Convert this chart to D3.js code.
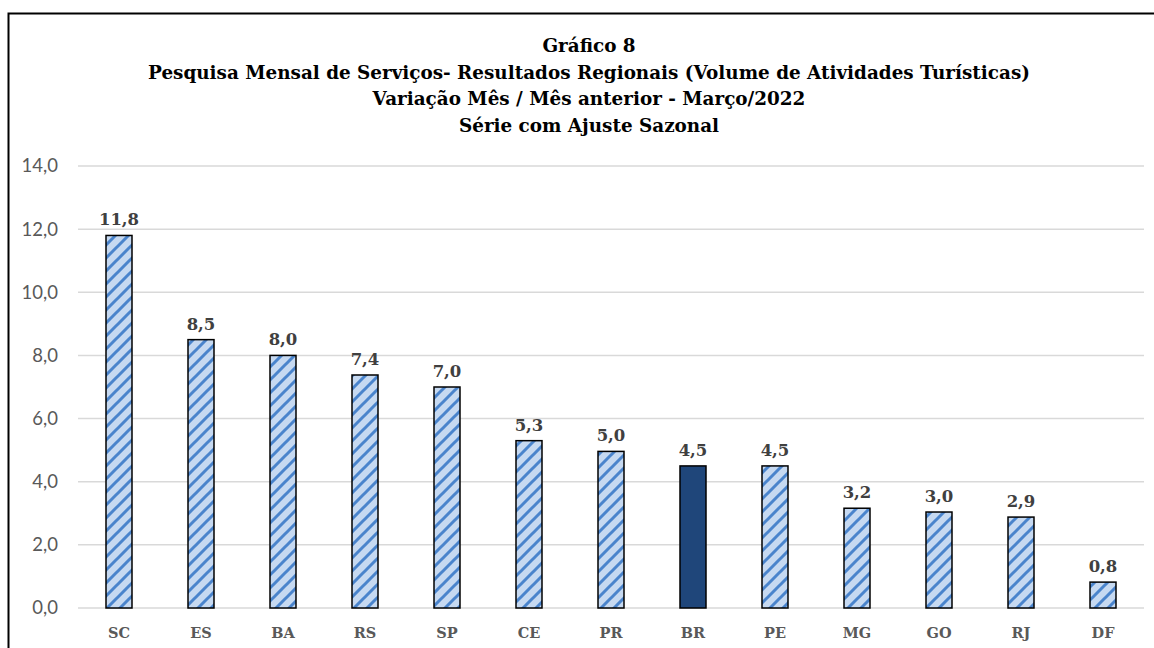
<!DOCTYPE html>
<html>
<head>
<meta charset="utf-8">
<script src="https://cdn.jsdelivr.net/npm/d3@7"></script>
<style>
  body { margin: 0; background: #fff; }
  svg { display: block; }
</style>
</head>
<body>
<svg id="canvas" width="1154" height="648"></svg>
<script>
var titleLines = [
  'Gráfico 8',
  'Pesquisa Mensal de Serviços- Resultados Regionais (Volume de Atividades Turísticas)',
  'Variação Mês / Mês anterior - Março/2022',
  'Série com Ajuste Sazonal'
];
var categories = ['SC', 'ES', 'BA', 'RS', 'SP', 'CE', 'PR', 'BR', 'PE', 'MG', 'GO', 'RJ', 'DF'];
var values = [11.8, 8.5, 8.0, 7.38, 7.0, 5.3, 4.96, 4.5, 4.5, 3.16, 3.04, 2.88, 0.82];
var yTicks = [0, 2, 4, 6, 8, 10, 12, 14];
var highlight = 'BR';

var plotLeft = 78, plotRight = 1144, plotTop = 166, plotBottom = 608;
var serif = '"DejaVu Serif", "Liberation Serif", serif';

var svg = d3.select('svg#canvas');
var fmt = function(v) { return d3.format('.1f')(v).replace('.', ','); };

// stripes for the regional bars
var defs = svg.append('defs');
var pat = defs.append('pattern')
  .attr('id', 'stripes')
  .attr('patternUnits', 'userSpaceOnUse')
  .attr('width', 13)
  .attr('height', 13);
pat.append('rect').attr('width', 13).attr('height', 13).attr('fill', '#c6d9f1');
pat.append('path')
  .attr('d', 'M0,13 L13,0 M-3,3 L3,-3 M10,16 L16,10')
  .attr('stroke', '#4a84cc')
  .attr('stroke-width', 3);

// chart border
svg.append('rect')
  .attr('x', 8.5).attr('y', 13.5)
  .attr('width', 1200).attr('height', 700)
  .attr('fill', 'none')
  .attr('stroke', '#000')
  .attr('stroke-width', 2);

// title, fitted to the width of the long line
var title = svg.append('g');
var tl = title.selectAll('text').data(titleLines).enter().append('text')
  .attr('x', 589)
  .attr('y', function(d, i) { return 52 + i * 26.5; })
  .attr('text-anchor', 'middle')
  .attr('font-family', serif)
  .attr('font-weight', 'bold')
  .attr('font-size', 18)
  .attr('fill', '#000')
  .text(function(d) { return d; });
var len = tl.nodes()[1].getComputedTextLength();
tl.attr('font-size', 18 * 882 / len);

var x = d3.scaleBand()
  .domain(categories)
  .range([plotLeft, plotRight])
  .paddingInner(0.683)
  .paddingOuter(0.3415);

var y = d3.scaleLinear().domain([0, 14]).range([plotBottom, plotTop]);

// gridlines
svg.append('g')
  .selectAll('line').data(yTicks).enter().append('line')
  .attr('x1', plotLeft).attr('x2', plotRight)
  .attr('y1', function(d) { return y(d); })
  .attr('y2', function(d) { return y(d); })
  .attr('stroke', '#d9d9d9')
  .attr('stroke-width', 1.5);

// y axis labels
var yAxis = svg.append('g')
  .attr('transform', 'translate(' + (plotLeft - 20) + ',0)')
  .call(d3.axisLeft(y).tickValues(yTicks).tickSize(0).tickPadding(0).tickFormat(fmt));
yAxis.select('.domain').remove();
yAxis.selectAll('text')
  .attr('font-family', 'Lato, "Open Sans", sans-serif')
  .attr('font-size', 18.5)
  .attr('fill', '#595959');

// bars
var data = categories.map(function(c, i) { return { cat: c, val: values[i] }; });
svg.append('g')
  .selectAll('rect').data(data).enter().append('rect')
  .attr('x', function(d) { return x(d.cat); })
  .attr('width', x.bandwidth())
  .attr('y', function(d) { return y(d.val); })
  .attr('height', function(d) { return y(0) - y(d.val); })
  .attr('fill', function(d) { return d.cat === highlight ? '#1f467a' : 'url(#stripes)'; })
  .attr('stroke', '#000')
  .attr('stroke-width', 1.5);

// value labels
svg.append('g')
  .selectAll('text').data(data).enter().append('text')
  .attr('x', function(d) { return x(d.cat) + x.bandwidth() / 2; })
  .attr('y', function(d) { return y(d.val) - 10; })
  .attr('text-anchor', 'middle')
  .attr('font-family', serif)
  .attr('font-weight', 'bold')
  .attr('font-size', 16.5)
  .attr('fill', '#404040')
  .text(function(d) { return fmt(d.val); });

// category labels
var xAxis = svg.append('g')
  .attr('transform', 'translate(0,' + plotBottom + ')')
  .call(d3.axisBottom(x).tickSize(0).tickPadding(0));
xAxis.select('.domain').remove();
xAxis.selectAll('text')
  .attr('dy', null)
  .attr('y', 30)
  .attr('font-family', serif)
  .attr('font-weight', 'bold')
  .attr('font-size', 14.5)
  .attr('fill', '#595959');
</script>
</body>
</html>
